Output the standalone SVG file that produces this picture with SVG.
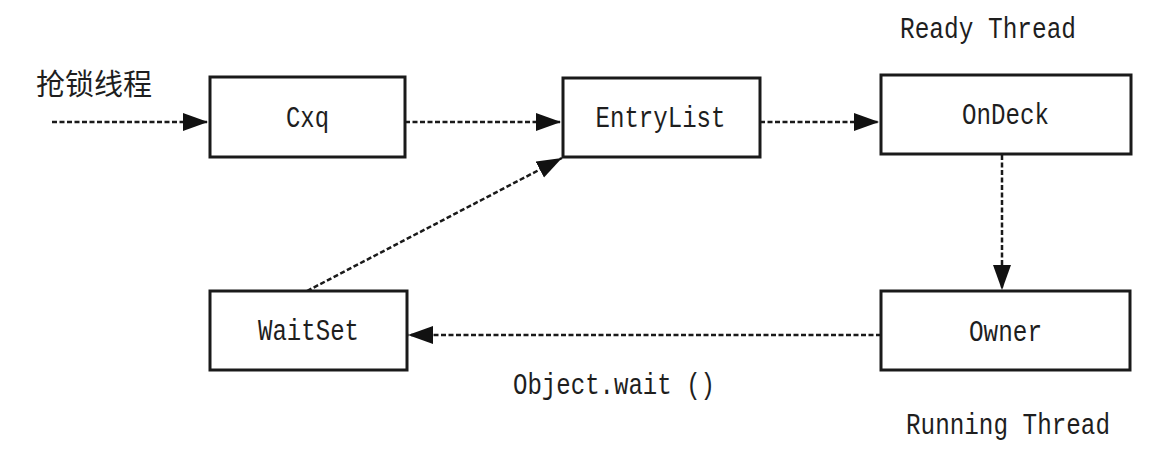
<svg xmlns="http://www.w3.org/2000/svg" width="1171" height="459" viewBox="0 0 1171 459">
<style>
.box{fill:#ffffff;stroke:#1a1a1a;stroke-width:3}
.lbl{font-family:"Liberation Mono","Noto Sans CJK SC",monospace;font-size:29px;fill:#1e1e1e;text-anchor:middle}
.free{font-family:"Liberation Mono","Noto Sans CJK SC",monospace;font-size:29px;fill:#1e1e1e}
.cjk{font-family:"Noto Sans CJK SC",sans-serif;font-size:29px;fill:#1e1e1e}
.edge{fill:none;stroke:#1a1a1a;stroke-width:2.5;stroke-dasharray:5 2.5}
</style>
<defs>
<marker id="arr" markerUnits="userSpaceOnUse" markerWidth="26" markerHeight="20" viewBox="0 0 26 20" refX="25" refY="10" orient="auto">
<path d="M0,1 L25,10 L0,19 Z" fill="#111"/>
</marker>
</defs>
<rect width="1171" height="459" fill="#ffffff"/>
<g id="connectors">
<line class="edge" x1="52" y1="122" x2="208" y2="122" marker-end="url(#arr)"/>
<line class="edge" x1="405" y1="122" x2="561" y2="122" marker-end="url(#arr)"/>
<line class="edge" x1="760" y1="122" x2="879" y2="122" marker-end="url(#arr)"/>
<line class="edge" x1="1002" y1="155" x2="1002" y2="290" marker-end="url(#arr)"/>
<line class="edge" x1="881" y1="335" x2="408" y2="335" marker-end="url(#arr)"/>
<line class="edge" x1="307" y1="291" x2="562" y2="158" marker-end="url(#arr)"/>
</g>
<g id="label-thread">
<text class="cjk" x="36" y="95">抢锁线程</text>
</g>
<g id="node-cxq">
<rect class="box" x="210" y="77" width="195" height="80"/>
<text class="lbl" x="307.5" y="127" textLength="43" lengthAdjust="spacingAndGlyphs">Cxq</text>
</g>
<g id="node-entrylist">
<rect class="box" x="563" y="78" width="197" height="79"/>
<text class="lbl" x="660.5" y="127" textLength="130" lengthAdjust="spacingAndGlyphs">EntryList</text>
</g>
<g id="node-ondeck">
<rect class="box" x="881" y="75" width="250" height="79"/>
<text class="lbl" x="1005.5" y="124" textLength="87" lengthAdjust="spacingAndGlyphs">OnDeck</text>
<text class="free" x="900" y="38" textLength="176" lengthAdjust="spacingAndGlyphs">Ready Thread</text>
</g>
<g id="node-waitset">
<rect class="box" x="210" y="291" width="197" height="79"/>
<text class="lbl" x="308.5" y="340" textLength="101" lengthAdjust="spacingAndGlyphs">WaitSet</text>
</g>
<g id="node-owner">
<rect class="box" x="881" y="291" width="249" height="79"/>
<text class="lbl" x="1005.5" y="341" textLength="73" lengthAdjust="spacingAndGlyphs">Owner</text>
<text class="free" x="906" y="434" textLength="204" lengthAdjust="spacingAndGlyphs">Running Thread</text>
</g>
<g id="label-wait">
<text class="free" x="513" y="394" textLength="202" lengthAdjust="spacingAndGlyphs">Object.wait ()</text>
</g>
</svg>
